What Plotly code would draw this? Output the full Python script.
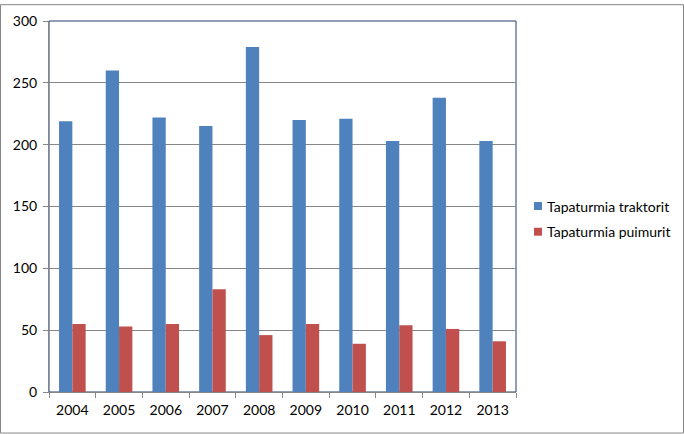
import plotly.graph_objects as go

years = ["2004", "2005", "2006", "2007", "2008", "2009", "2010", "2011", "2012", "2013"]
traktorit = [219, 260, 222, 215, 279, 220, 221, 203, 238, 203]
puimurit = [55, 53, 55, 83, 46, 55, 39, 54, 51, 41]
series_names = ["Tapaturmia traktorit", "Tapaturmia puimurit"]
colors = ["#4F81BD", "#C0504D"]

W, H = 684, 434
L, R, T, B = 49, 168, 17, 42
pw, ph = W - L - R, H - T - B

def px_x(px):
    return (px - L) / pw

def px_y(py):
    return (H - B - py) / ph

fig = go.Figure()
fig.add_bar(x=years, y=traktorit, name=series_names[0], marker_color=colors[0], marker_line_width=0)
fig.add_bar(x=years, y=puimurit, name=series_names[1], marker_color=colors[1], marker_line_width=0)

font = dict(family="Lato, Calibri, sans-serif", size=14, color="#000000")

shapes = [
    # outer chart border
    dict(type="rect", xref="paper", yref="paper", x0=px_x(0.5), x1=px_x(W - 0.5),
         y0=px_y(H - 0.5), y1=px_y(0.5), line=dict(color="#868686", width=1), layer="below"),
    # plot area border (top/right dark blue)
    dict(type="rect", xref="paper", yref="paper", x0=0, x1=1, y0=0, y1=1,
         line=dict(color="#1F3F6F", width=1), layer="below"),
]
annotations = []
leg_y = [204, 230]
for i, name in enumerate(series_names):
    cy = leg_y[i]
    shapes.append(dict(type="rect", xref="paper", yref="paper",
                       x0=px_x(534), x1=px_x(542), y0=px_y(cy + 4), y1=px_y(cy - 4),
                       fillcolor=colors[i], line=dict(width=0)))
    annotations.append(dict(xref="paper", yref="paper", x=px_x(545), y=px_y(cy),
                            xanchor="left", yanchor="middle", text=name, showarrow=False,
                            font=font))

fig.update_layout(
    width=W, height=H,
    margin=dict(l=L, r=R, t=T, b=B),
    paper_bgcolor="white", plot_bgcolor="white",
    barmode="group", bargap=0.43, bargroupgap=0,
    showlegend=False,
    font=font,
    shapes=shapes,
    annotations=annotations,
    xaxis=dict(type="category", showline=True, linecolor="#868686", linewidth=1,
               ticks="outside", tickson="boundaries", ticklen=5, tickcolor="#868686",
               showgrid=False, tickfont=font, mirror=False, ticklabelstandoff=5),
    yaxis=dict(range=[0, 300], dtick=50, showline=True, linecolor="#868686", linewidth=1,
               ticks="outside", ticklen=5, tickcolor="#868686",
               showgrid=True, gridcolor="#868686", gridwidth=1, zeroline=False,
               tickfont=font, ticklabelstandoff=3),
)

fig.write_html("out.html")
